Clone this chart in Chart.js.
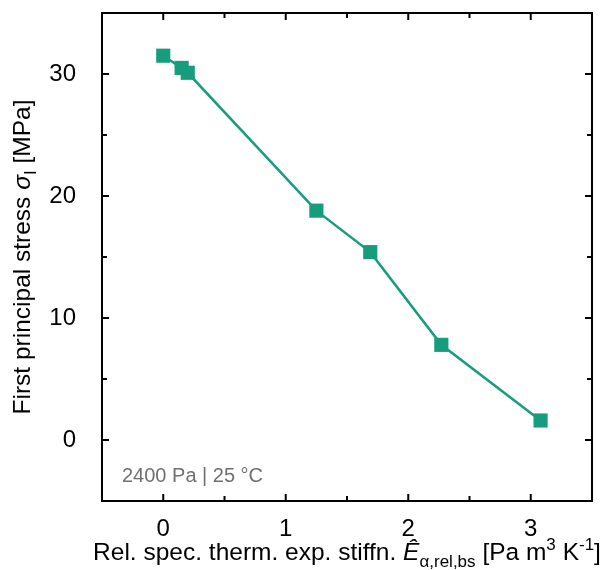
<!DOCTYPE html>
<html>
<head>
<meta charset="utf-8">
<script src="https://cdn.jsdelivr.net/npm/chart.js@4.4.0/dist/chart.umd.min.js"></script>
<style>
  html, body { margin: 0; padding: 0; background: #fff; }
  #wrap { width: 616px; height: 570px; }
</style>
</head>
<body>
<div id="wrap"><canvas id="stressChart"></canvas></div>
<script>
// data
const stiffness = [0, 0.15, 0.2, 1.25, 1.69, 2.27, 3.08];
const stress = [31.5, 30.5, 30.1, 18.8, 15.4, 7.8, 1.6];

const xRange = [-0.5, 3.5];
const yRange = [-5, 35];
const xTicks = [0, 1, 2, 3];
const yTicks = [0, 10, 20, 30];
const xMinor = [0.5, 1.5, 2.5];
const yMinor = [5, 15, 25];
const note = '2400 Pa | 25 °C';

const green = '#179C7D';
const FONT = '"Liberation Sans", Arial, sans-serif';

function setFont(ctx, r) {
  ctx.font = (r.it ? 'italic ' : '') + r.size + 'px ' + FONT;
}

// draws a list of runs (text with size / italic / baseline shift) centred on x
function drawRich(ctx, runs, x, y) {
  let total = 0;
  runs.forEach(r => { setFont(ctx, r); total += ctx.measureText(r.t).width; });
  let cx = x - total / 2;
  ctx.textAlign = 'left';
  ctx.textBaseline = 'alphabetic';
  runs.forEach(r => {
    setFont(ctx, r);
    ctx.fillText(r.t, cx, y + (r.dy || 0));
    cx += ctx.measureText(r.t).width;
  });
}

const xTitle = [
  { t: 'Rel. spec. therm. exp. stiffn. ', size: 24.5 },
  { t: 'Ê', size: 24.5, it: true },
  { t: 'α,rel,bs', size: 17, dy: 7 },
  { t: ' [Pa m', size: 24.5 },
  { t: '3', size: 17, dy: -10 },
  { t: ' K', size: 24.5 },
  { t: '-1', size: 17, dy: -10 },
  { t: ']', size: 24.5 }
];
const yTitle = [
  { t: 'First principal stress ', size: 24.5 },
  { t: 'σ', size: 24.5, it: true },
  { t: 'I', size: 17, dy: 6 },
  { t: ' [MPa]', size: 24.5 }
];

const framePlugin = {
  id: 'frame',
  afterDraw(chart) {
    const { ctx, chartArea: a, scales } = chart;
    const xs = scales.x, ys = scales.y;
    ctx.save();
    ctx.strokeStyle = '#000';
    ctx.lineWidth = 2;
    ctx.strokeRect(a.left, a.top, a.right - a.left, a.bottom - a.top);

    const tickX = (vals, len) => {
      vals.forEach(v => {
        const px = xs.getPixelForValue(v);
        ctx.beginPath();
        ctx.moveTo(px, a.bottom); ctx.lineTo(px, a.bottom - len);
        ctx.moveTo(px, a.top); ctx.lineTo(px, a.top + len);
        ctx.stroke();
      });
    };
    const tickY = (vals, len) => {
      vals.forEach(v => {
        const py = ys.getPixelForValue(v);
        ctx.beginPath();
        ctx.moveTo(a.left, py); ctx.lineTo(a.left + len, py);
        ctx.moveTo(a.right, py); ctx.lineTo(a.right - len, py);
        ctx.stroke();
      });
    };
    tickX(xTicks, 7); tickX(xMinor, 5);
    tickY(yTicks, 7); tickY(yMinor, 5);

    ctx.fillStyle = '#000';
    drawRich(ctx, xTitle, (a.left + a.right) / 2, 560);

    ctx.save();
    ctx.translate(30, (a.top + a.bottom) / 2);
    ctx.rotate(-Math.PI / 2);
    drawRich(ctx, yTitle, 0, 0);
    ctx.restore();

    ctx.fillStyle = '#707070';
    ctx.font = '20px ' + FONT;
    ctx.textAlign = 'left';
    ctx.textBaseline = 'alphabetic';
    ctx.fillText(note, a.left + 20, 482);
    ctx.restore();
  }
};

new Chart(document.getElementById('stressChart'), {
  type: 'scatter',
  data: {
    datasets: [{
      data: stiffness.map((x, i) => ({ x, y: stress[i] })),
      showLine: true,
      borderColor: green,
      backgroundColor: green,
      borderWidth: 2.5,
      pointStyle: 'rect',
      pointRadius: 10,
      pointBorderWidth: 0,
      pointHoverRadius: 10
    }]
  },
  options: {
    responsive: true,
    maintainAspectRatio: false,
    animation: false,
    layout: { padding: { top: 13, right: 24, left: 0, bottom: 0 } },
    plugins: { legend: { display: false }, tooltip: { enabled: false } },
    scales: {
      x: {
        type: 'linear',
        min: xRange[0], max: xRange[1],
        afterBuildTicks: s => { s.ticks = xTicks.map(v => ({ value: v })); },
        afterFit: s => { s.height = 69; s.paddingLeft = 0; s.paddingRight = 0; },
        grid: { display: false },
        border: { display: false },
        ticks: { font: { family: FONT, size: 24 }, color: '#000', padding: 6, maxRotation: 0 }
      },
      y: {
        type: 'linear',
        min: yRange[0], max: yRange[1],
        afterBuildTicks: s => { s.ticks = yTicks.map(v => ({ value: v })); },
        afterFit: s => { s.width = 102; s.paddingTop = 0; s.paddingBottom = 0; },
        grid: { display: false },
        border: { display: false },
        ticks: { font: { family: FONT, size: 24 }, color: '#000', padding: 18 }
      }
    }
  },
  plugins: [framePlugin]
});
</script>
</body>
</html>
